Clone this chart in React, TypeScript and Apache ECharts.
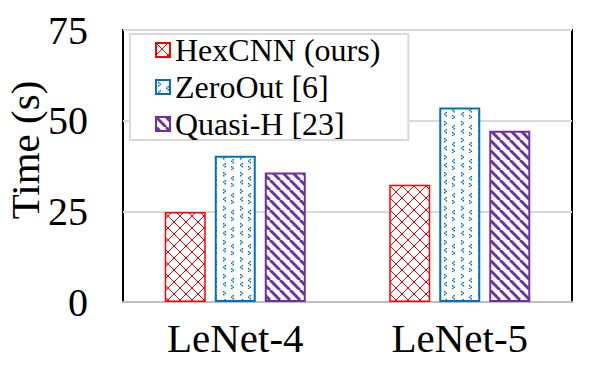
import React, { useEffect, useRef } from "react";
import * as echarts from "echarts";

const categories = ["LeNet-4", "LeNet-5"];
const seriesNames = ["HexCNN (ours)", "ZeroOut [6]", "Quasi-H [23]"];
const hexcnn = [24.8, 32.3];
const zeroout = [40.3, 53.6];
const quasih = [35.7, 47.2];
const yTicks = [0, 25, 50, 75];

const RED = "#ff0000";
const BLUE = "#0070c0";
const PURPLE = "#7030a0";
const FONT = "Liberation Serif";

function makeCanvas(size: number, draw: (ctx: CanvasRenderingContext2D) => void) {
  const c = document.createElement("canvas");
  c.width = size;
  c.height = size;
  const ctx = c.getContext("2d")!;
  ctx.fillStyle = "#ffffff";
  ctx.fillRect(0, 0, size, size);
  draw(ctx);
  return c;
}

function crossPattern() {
  const s = 12;
  const c = makeCanvas(s, (ctx) => {
    ctx.strokeStyle = RED;
    ctx.lineWidth = 1;
    for (let k = -1; k <= 1; k++) {
      ctx.beginPath();
      ctx.moveTo(k * s, 0);
      ctx.lineTo(k * s + s, s);
      ctx.stroke();
      ctx.beginPath();
      ctx.moveTo(k * s + s, 0);
      ctx.lineTo(k * s, s);
      ctx.stroke();
    }
  });
  return { image: c, repeat: "repeat", imageWidth: s, imageHeight: s };
}

function stripePattern() {
  const s = 10;
  const c = makeCanvas(s, (ctx) => {
    ctx.strokeStyle = PURPLE;
    ctx.lineWidth = 3;
    for (let k = -1; k <= 1; k++) {
      ctx.beginPath();
      ctx.moveTo(k * s, 0);
      ctx.lineTo(k * s + s, s);
      ctx.stroke();
    }
  });
  return { image: c, repeat: "repeat", imageWidth: s, imageHeight: s };
}

function dotPattern() {
  const s = 17;
  const c = makeCanvas(s, (ctx) => {
    ctx.fillStyle = BLUE;
    const right = (x: number, y: number) => {
      ctx.fillRect(x, y, 1.5, 1.5);
      ctx.fillRect(x + 1.5, y + 1.5, 1.5, 1.5);
      ctx.fillRect(x, y + 3, 1.5, 1.5);
    };
    const left = (x: number, y: number) => {
      ctx.fillRect(x + 1.5, y, 1.5, 1.5);
      ctx.fillRect(x, y + 1.5, 1.5, 1.5);
      ctx.fillRect(x + 1.5, y + 3, 1.5, 1.5);
    };
    right(2, 2);
    left(10, 6);
    left(2, 10);
    right(10, 13);
  });
  return { image: c, repeat: "repeat", imageWidth: s, imageHeight: s };
}

export default function App() {
  const ref = useRef<HTMLDivElement>(null);
  useEffect(() => {
    if (!ref.current) return;
    const chart = echarts.init(ref.current, null, { renderer: "svg" });
    const barCommon = {
      type: "bar",
      barWidth: 41,
      barGap: "22%",
    };
    chart.setOption({
      animation: false,
      backgroundColor: "#ffffff",
      grid: {
        left: 123,
        right: 21,
        top: 30,
        bottom: 66,
        show: true,
        borderColor: "#000000",
        borderWidth: 2,
        backgroundColor: "transparent",
      },
      legend: {
        orient: "vertical",
        left: 130,
        top: 34,
        padding: [0, 28, 0, 25],
        itemGap: 5,
        itemWidth: 14,
        itemHeight: 14,
        icon: "rect",
        borderColor: "#d9d9d9",
        borderWidth: 2,
        backgroundColor: "#ffffff",
        data: seriesNames,
        textStyle: {
          fontFamily: FONT,
          fontSize: 32,
          color: "#000000",
          lineHeight: 28,
        },
      },
      xAxis: {
        type: "category",
        data: categories,
        axisLine: { lineStyle: { color: "#bfbfbf", width: 2 } },
        axisTick: { show: false },
        axisLabel: {
          fontFamily: FONT,
          fontSize: 41,
          color: "#000000",
          margin: 15,
        },
      },
      yAxis: {
        type: "value",
        min: yTicks[0],
        max: yTicks[yTicks.length - 1],
        interval: 25,
        axisLine: { show: false },
        axisTick: { show: false },
        splitLine: { lineStyle: { color: "#d9d9d9", width: 2 } },
        axisLabel: {
          fontFamily: FONT,
          fontSize: 40,
          color: "#000000",
          margin: 35,
        },
      },
      graphic: [
        {
          type: "text",
          x: 25,
          y: 150,
          rotation: Math.PI / 2,
          style: {
            text: "Time (s)",
            fontFamily: FONT,
            fontSize: 41,
            fill: "#000000",
            textAlign: "center",
            textVerticalAlign: "middle",
          },
        },
      ],
      series: [
        {
          ...barCommon,
          name: seriesNames[0],
          data: hexcnn,
          itemStyle: { color: crossPattern(), borderColor: RED, borderWidth: 1.5 },
        },
        {
          ...barCommon,
          name: seriesNames[1],
          data: zeroout,
          itemStyle: { color: dotPattern(), borderColor: BLUE, borderWidth: 2 },
        },
        {
          ...barCommon,
          name: seriesNames[2],
          data: quasih,
          itemStyle: { color: stripePattern(), borderColor: PURPLE, borderWidth: 2 },
        },
      ],
    });
    return () => chart.dispose();
  }, []);
  return <div ref={ref} style={{ width: 593, height: 368, position: "absolute", left: 0, top: 0 }} />;
}
